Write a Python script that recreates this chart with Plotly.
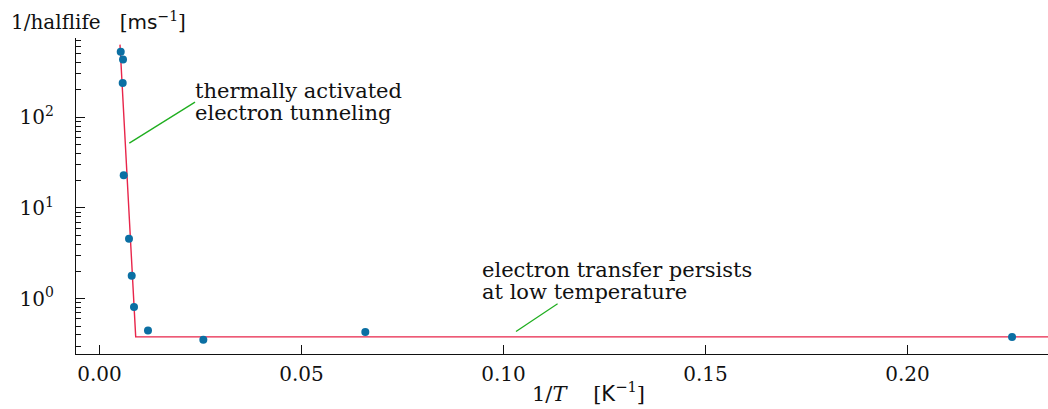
import plotly.graph_objects as go

# ---- data ----
inv_T = [0.00525, 0.00582, 0.00574, 0.00599, 0.00730, 0.00797, 0.00854,
         0.01200, 0.02570, 0.06580, 0.22590]
rate = [525, 432, 239, 22.9, 4.59, 1.79, 0.81, 0.447, 0.353, 0.430, 0.378]

fit_x = [0.00507, 0.00896, 0.2400]
fit_y = [631, 0.38, 0.38]

# annotation leader lines (data coordinates)
lead1_x = [0.00738, 0.02364]
lead1_y = [51.9, 146.6]
lead2_x = [0.1031, 0.1134]
lead2_y = [0.436, 0.881]

ytick_vals = [1, 10, 100]
ytick_text = ["10<sup>0</sup>", "10<sup>1</sup>", "10<sup>2</sup>"]
xtick_vals = [0.00, 0.05, 0.10, 0.15, 0.20]
xtick_text = ["0.00", "0.05", "0.10", "0.15", "0.20"]
yminor_vals = [m * 10 ** k for k in range(-1, 3) for m in range(2, 10)]

W, H = 1048, 409
ML, MR, MT, MB = 76, 0, 38, 55
PW, PH = W - ML - MR, H - MT - MB

SERIF = "DejaVu Serif"
FS = 20
FA = 21


def px2paper(px, py):
    return (px - ML) / PW, 1 - (py - MT) / PH


fig = go.Figure()
fig.add_trace(go.Scatter(x=fit_x, y=fit_y, mode="lines",
                         line=dict(color="#e8254a", width=1.4),
                         hoverinfo="skip", showlegend=False))
fig.add_trace(go.Scatter(x=inv_T, y=rate, mode="markers",
                         marker=dict(color="#0b6fa3", size=8),
                         showlegend=False))
for lx, ly in [(lead1_x, lead1_y), (lead2_x, lead2_y)]:
    fig.add_trace(go.Scatter(x=lx, y=ly, mode="lines",
                             line=dict(color="#1fae1f", width=1.3),
                             hoverinfo="skip", showlegend=False))

annots = []
texts = [
    (194, 91, "thermally activated"),
    (194, 113, "electron tunneling"),
    (481, 270, "electron transfer persists"),
    (481, 292, "at low temperature"),
]
for tx, ty, t in texts:
    xp, yp = px2paper(tx, ty)
    annots.append(dict(x=xp, y=yp, xref="paper", yref="paper", text=t,
                       showarrow=False, xanchor="left", yanchor="middle",
                       font=dict(family=SERIF, size=FA, color="#111"),
                       borderpad=0))

xp, yp = px2paper(10, 21)
annots.append(dict(x=xp, y=yp, xref="paper", yref="paper",
                   text="1/halflife\u00a0\u00a0\u00a0[<span style='font-family:DejaVu Sans'>ms</span><sup>\u22121</sup>]",
                   showarrow=False, xanchor="left", yanchor="middle",
                   font=dict(family=SERIF, size=FS, color="#111"), borderpad=0))
xp, yp = px2paper(588, 392)
annots.append(dict(x=xp, y=yp, xref="paper", yref="paper",
                   text="1/<i>T</i>\u00a0\u00a0\u00a0\u00a0[<span style='font-family:DejaVu Sans'>K</span><sup>\u22121</sup>]",
                   showarrow=False, xanchor="center", yanchor="middle",
                   font=dict(family=SERIF, size=FA, color="#111"), borderpad=0))

fig.update_layout(
    width=W, height=H,
    margin=dict(l=ML, r=MR, t=MT, b=MB, pad=0),
    paper_bgcolor="white", plot_bgcolor="white",
    annotations=annots,
    xaxis=dict(range=[-0.00582, 0.2348], showgrid=False, zeroline=False,
               showline=True, linecolor="#111", linewidth=1.3,
               ticks="inside", ticklen=9, tickwidth=1.4, tickcolor="#111",
               tickmode="array", tickvals=xtick_vals, ticktext=xtick_text,
               tickfont=dict(family=SERIF, size=FS, color="#111"),
               ticklabelstandoff=2),
    yaxis=dict(type="log", range=[-0.6087, 2.873], showgrid=False,
               zeroline=False, showline=True, linecolor="#111", linewidth=1.3,
               ticks="inside", ticklen=9, tickwidth=1.4, tickcolor="#111",
               tickmode="array", tickvals=ytick_vals, ticktext=ytick_text,
               tickfont=dict(family=SERIF, size=FS, color="#111"),
               ticklabelstandoff=17,
               minor=dict(ticks="inside", ticklen=5, tickwidth=1.1,
                          tickcolor="#111", tickmode="array",
                          tickvals=yminor_vals, showgrid=False)),
)

fig.write_html("out.html")
